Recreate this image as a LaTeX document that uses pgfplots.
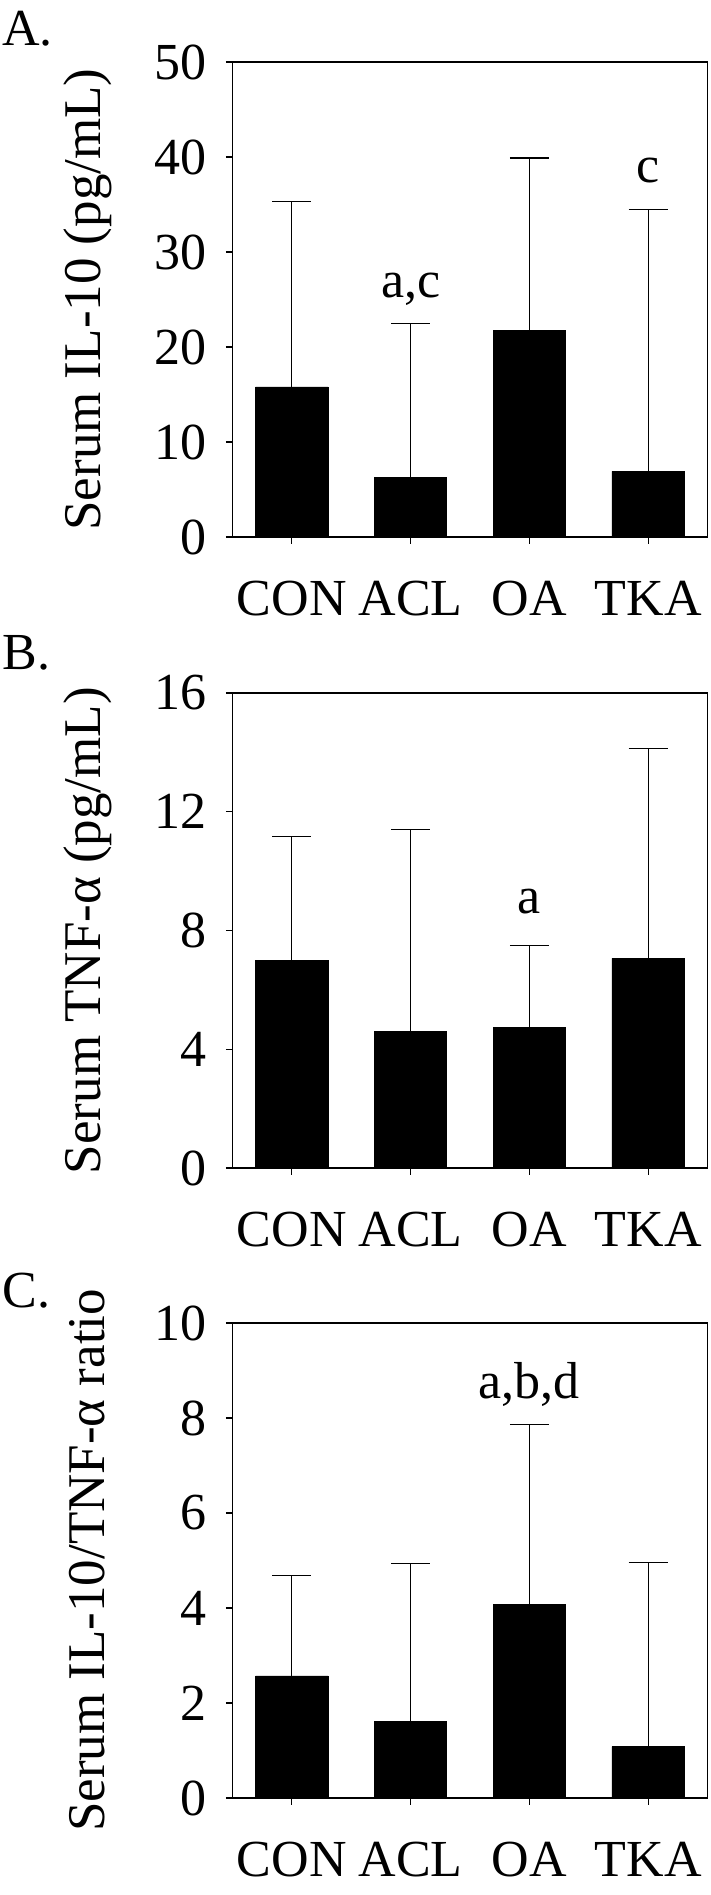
\documentclass[border=0pt]{standalone}
\usepackage{pgfplots}
\pgfplotsset{compat=1.18}
\usepackage{fontspec}
\setmainfont{Liberation Serif}
\pgfplotsset{panel/.style={
  scale only axis, width=237.5pt, height=237.5pt,
  xmin=-0.5, xmax=3.5, ymin=0,
  xtick={0,1,2,3}, xticklabels={CON,ACL,OA,TKA},
  tick align=outside, xtick pos=lower, ytick pos=left,
  major tick length=3.3pt,
  ybar, bar width=0.61,
  axis line style={line width=0.6pt},
  every tick/.style={black, line width=0.6pt},
  /pgf/number format/assume math mode=true,
  tick label style={font=\fontsize{26}{30}\selectfont},
  xticklabel style={yshift=-15pt},
  yticklabel style={xshift=-6pt},
  ylabel style={font=\fontsize{26.5}{30}\selectfont, at={(axis description cs:-0.305,0.5)}, anchor=center},
  errstyle/.style={fill=black, draw=black, error bars/.cd, y dir=plus, y explicit,
    error bar style={line width=0.6pt, black},
    error mark options={rotate=90, mark size=9.75pt, line width=0.6pt, black}},
}}
\begin{document}
\begin{tikzpicture}
\useasboundingbox (0,0) rectangle (355.5pt,-947.5pt);
% Panel A
\begin{axis}[panel, at={(116.25pt,-268.5pt)}, anchor=south west,
  ymax=50, ytick={0,10,20,30,40,50}, ylabel={Serum IL-10 (pg/mL)}]
\addplot[errstyle]
  coordinates {(0,15.8) +- (0,19.5) (1,6.3) +- (0,16.2) (2,21.7) +- (0,18.2) (3,6.9) +- (0,27.6)};
\node[anchor=base, font=\fontsize{26}{30}\selectfont] at (axis cs:1,25.2) {a,c};
\node[anchor=base, font=\fontsize{26}{30}\selectfont] at (axis cs:3,37.3) {c};
\end{axis}
% Panel B
\begin{axis}[panel, at={(116.25pt,-584pt)}, anchor=south west,
  ymax=16, ytick={0,4,8,12,16}, ylabel={Serum TNF-α (pg/mL)}]
\addplot[errstyle]
  coordinates {(0,6.98) +- (0,4.19) (1,4.60) +- (0,6.79) (2,4.73) +- (0,2.77) (3,7.06) +- (0,7.06)};
\node[anchor=base, font=\fontsize{26}{30}\selectfont] at (axis cs:2,8.56) {a};
\end{axis}
% Panel C
\begin{axis}[panel, at={(116.25pt,-899pt)}, anchor=south west,
  ymax=10, ytick={0,2,4,6,8,10}, ylabel={Serum IL-10/TNF-α ratio}]
\addplot[errstyle]
  coordinates {(0,2.57) +- (0,2.11) (1,1.61) +- (0,3.33) (2,4.07) +- (0,3.79) (3,1.08) +- (0,3.87)};
\node[anchor=base, font=\fontsize{26}{30}\selectfont] at (axis cs:2,8.41) {a,b,d};
\end{axis}
\node[anchor=base west, font=\fontsize{26}{30}\selectfont, inner sep=0pt] at (1pt,-23pt) {A.};
\node[anchor=base west, font=\fontsize{26}{30}\selectfont, inner sep=0pt] at (1pt,-334.5pt) {B.};
\node[anchor=base west, font=\fontsize{26}{30}\selectfont, inner sep=0pt] at (1pt,-653.5pt) {C.};
\end{tikzpicture}
\end{document}
